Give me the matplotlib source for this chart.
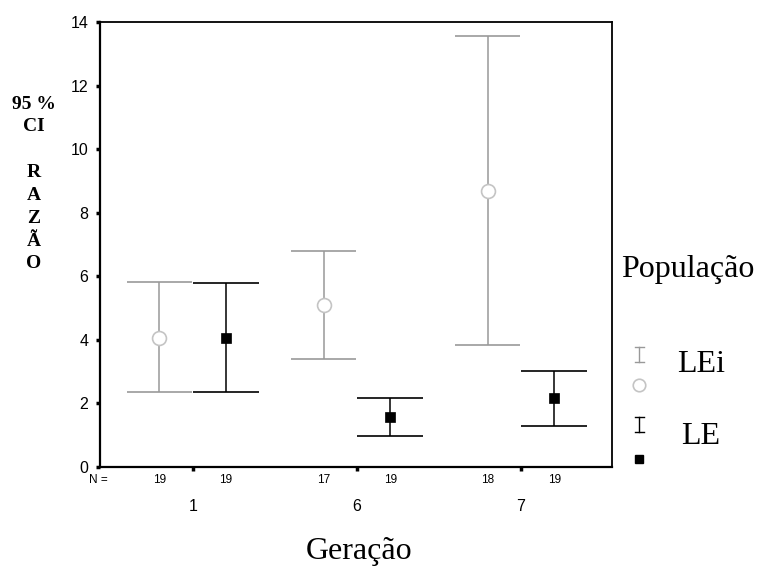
import matplotlib
matplotlib.use("Agg")
import matplotlib.pyplot as plt
from matplotlib.lines import Line2D
import numpy as np

# ---- data ----
categories = ["1", "6", "7"]
series_names = ["LEi", "LE"]
lei_mean = [4.06, 5.08, 8.68]
lei_low = [2.34, 3.39, 3.82]
lei_high = [5.82, 6.80, 13.58]
lei_n = [19, 17, 18]
le_mean = [4.06, 1.57, 2.15]
le_low = [2.34, 0.98, 1.28]
le_high = [5.80, 2.16, 3.02]
le_n = [19, 19, 19]
yticks = [0, 2, 4, 6, 8, 10, 12, 14]

W, H = 762, 567
fig = plt.figure(figsize=(W / 100, H / 100), dpi=100)
fig.patch.set_facecolor("white")

def fx(x):
    return x / W

def fy(y):
    return 1 - y / H

ax = fig.add_axes([fx(100), fy(466.7), fx(612) - fx(100), fy(22.2) - fy(466.7)])

pos = np.arange(len(categories))
off = 0.203
cap = 0.20
gray = "#999999"
circ = "#c4c4c4"

x_lei = pos - off
x_le = pos + off

# LEi series
ax.vlines(x_lei, lei_low, lei_high, color=gray, lw=1.1, zorder=2)
ax.hlines(lei_low, x_lei - cap, x_lei + cap, color=gray, lw=1.2, zorder=2)
ax.hlines(lei_high, x_lei - cap, x_lei + cap, color=gray, lw=1.2, zorder=2)
ax.plot(x_lei, lei_mean, ls="none", marker="o", ms=10, mfc="white",
        mec=circ, mew=1.2, zorder=3)

# LE series
ax.vlines(x_le, le_low, le_high, color="black", lw=1.1, zorder=2)
ax.hlines(le_low, x_le - cap, x_le + cap, color="black", lw=1.2, zorder=2)
ax.hlines(le_high, x_le - cap, x_le + cap, color="black", lw=1.2, zorder=2)
ax.plot(x_le, le_mean, ls="none", marker="s", ms=7, mfc="black",
        mec="black", mew=0.5, zorder=3)

ax.set_xlim(-0.565, 2.555)
ax.set_ylim(0, 14)

for s in ax.spines.values():
    s.set_linewidth(1.3)
    s.set_color("black")
ax.spines["left"].set_linewidth(1.6)
ax.spines["bottom"].set_linewidth(1.6)

ax.set_yticks(yticks)
ax.set_yticklabels([str(v) for v in yticks], fontfamily="Liberation Sans", fontsize=11.5)
ax.tick_params(axis="y", direction="out", length=3, width=2.5, pad=5.5)

ax.set_xticks(pos)
ax.set_xticklabels(categories, fontfamily="Liberation Sans", fontsize=11.5)
ax.tick_params(axis="x", direction="out", length=3, width=2.5, pad=20.5)

# N row
ax.annotate("N =", xy=(0, 0), xycoords="axes fraction", xytext=(-1.5, -13),
            textcoords="offset pixels", ha="center", va="center",
            fontfamily="Liberation Sans", fontsize=8.5)
for xs, ns in ((x_lei, lei_n), (x_le, le_n)):
    for xv, nv in zip(xs, ns):
        ax.annotate(str(nv), xy=(xv, 0), xycoords=("data", "axes fraction"),
                    xytext=(0, -13), textcoords="offset pixels",
                    ha="center", va="center",
                    fontfamily="Liberation Sans", fontsize=8.5)

# axis titles
fig.text(fx(359), fy(552), "Geração", ha="center", va="center",
         fontfamily="Liberation Serif", fontsize=23)
fig.text(fx(34), fy(184), "95 %\nCI\n\nR\nA\nZ\nÃ\nO", ha="center", va="center",
         multialignment="center", linespacing=1.45,
         fontfamily="Liberation Serif", fontweight="bold", fontsize=14)

# legend
fig.text(fx(688), fy(270), "População", ha="center", va="center",
         fontfamily="Liberation Serif", fontsize=23)
fig.text(fx(701), fy(365), series_names[0], ha="center", va="center",
         fontfamily="Liberation Serif", fontsize=23)
fig.text(fx(701), fy(437), series_names[1], ha="center", va="center",
         fontfamily="Liberation Serif", fontsize=23)

def legend_i(xc, y0, y1, color):
    fig.add_artist(Line2D([fx(xc), fx(xc)], [fy(y0), fy(y1)], color=color, lw=1.0))
    for yy in (y0, y1):
        fig.add_artist(Line2D([fx(xc - 4.5), fx(xc + 4.5)], [fy(yy), fy(yy)], color=color, lw=1.0))

legend_i(639, 347, 362, gray)
fig.add_artist(Line2D([fx(639)], [fy(385)], ls="none", marker="o", ms=9,
                      mfc="white", mec=circ, mew=1.2))
legend_i(639, 417, 432, "black")
fig.add_artist(Line2D([fx(639)], [fy(459)], ls="none", marker="s", ms=5.5,
                      mfc="black", mec="black"))

fig.savefig("out.png", dpi=100, facecolor="white")
